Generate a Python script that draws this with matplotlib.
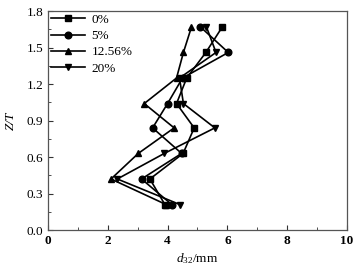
"""Sauter mean diameter profiles along tank height."""

import matplotlib

matplotlib.use("Agg")

import matplotlib.pyplot as plt
from matplotlib.ticker import MultipleLocator

plt.rcParams["font.family"] = ["Liberation Serif", "DejaVu Serif"]
plt.rcParams["mathtext.fontset"] = "custom"
plt.rcParams["mathtext.rm"] = "Liberation Serif"
plt.rcParams["mathtext.it"] = "Liberation Serif:italic"

z_levels = [0.21, 0.42, 0.63, 0.84, 1.04, 1.25, 1.46, 1.67]
d32_0 = [3.91, 3.41, 4.52, 4.89, 4.30, 4.64, 5.28, 5.83]
d32_5 = [4.14, 3.13, 4.47, 3.50, 4.00, 4.50, 6.03, 5.10]
d32_1256 = [3.95, 2.11, 3.02, 4.22, 3.22, 4.30, 4.53, 4.80]
d32_20 = [4.41, 2.32, 3.89, 5.58, 4.53, 4.40, 5.62, 5.30]

series = [
    ("0%", d32_0, "s"),
    ("5%", d32_5, "o"),
    ("12.56%", d32_1256, "^"),
    ("20%", d32_20, "v"),
]

fig = plt.figure(figsize=(3.63, 2.71), dpi=100)
ax = fig.add_axes([0.132, 0.151, 0.824, 0.808])

for label, values, marker in series:
    ax.plot(values, z_levels, color="black", linewidth=1.2,
            marker=marker, markersize=4.8, label=label)

ax.set_xlim(0, 10)
ax.set_ylim(0, 1.8)
ax.xaxis.set_major_locator(MultipleLocator(2))
ax.xaxis.set_minor_locator(MultipleLocator(1))
ax.yaxis.set_major_locator(MultipleLocator(0.3))
ax.yaxis.set_minor_locator(MultipleLocator(0.15))
ax.yaxis.set_major_formatter(plt.FuncFormatter(lambda v, _: f"{v:.1f}"))
ax.tick_params(which="both", direction="in", top=False, right=False,
               labelsize=9.5, color="#333333")
ax.tick_params(which="major", length=3.5)
ax.tick_params(which="minor", length=2)
for lbl in ax.get_xticklabels():
    lbl.set_fontweight("bold")
for spine in ax.spines.values():
    spine.set_color("#555555")
    spine.set_linewidth(0.9)

ax.set_xlabel("$d_{32}$/mm", fontsize=9.5, labelpad=3)
ax.set_ylabel("Z/T", fontsize=9.5, style="italic", labelpad=7)

ax.legend(loc="upper left", frameon=False, fontsize=9.5, handlelength=2.6,
          handletextpad=0.5, labelspacing=0.3, borderaxespad=0.1,
          borderpad=0.1)

fig.savefig("out.png", dpi=100)
plt.close(fig)
